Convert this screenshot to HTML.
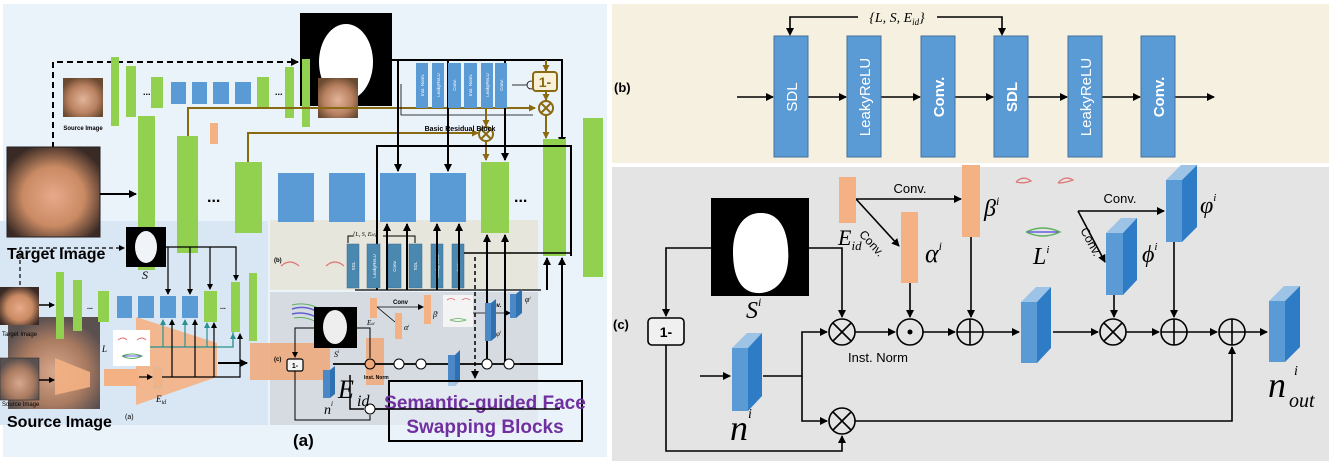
<!DOCTYPE html>
<html><head><meta charset="utf-8"><style>
html,body{margin:0;padding:0;background:#fff;}
svg{display:block;}
.sans{font-family:"Liberation Sans",sans-serif;}
.serif{font-family:"Liberation Serif",serif;font-style:italic;}
</style></head><body>
<svg width="1329" height="461" viewBox="0 0 1329 461" xmlns="http://www.w3.org/2000/svg">
<defs>
<marker id="a" markerWidth="8" markerHeight="8" refX="7" refY="4" orient="auto" markerUnits="userSpaceOnUse"><path d="M0,0 L8,4 L0,8 z" fill="#000"/></marker>
<marker id="as" markerWidth="6" markerHeight="6" refX="5" refY="3" orient="auto" markerUnits="userSpaceOnUse"><path d="M0,0 L6,3 L0,6 z" fill="#000"/></marker>
<marker id="ag" markerWidth="7" markerHeight="7" refX="6" refY="3.5" orient="auto" markerUnits="userSpaceOnUse"><path d="M0,0 L7,3.5 L0,7 z" fill="#8a6a10"/></marker>
<marker id="at" markerWidth="6" markerHeight="6" refX="5" refY="3" orient="auto" markerUnits="userSpaceOnUse"><path d="M0,0 L6,3 L0,6 z" fill="#2a9090"/></marker>
<radialGradient id="face1" cx="50%" cy="55%" r="60%"><stop offset="0" stop-color="#e7a98a"/><stop offset="0.55" stop-color="#c98a63"/><stop offset="1" stop-color="#3a2a25"/></radialGradient>
<radialGradient id="face2" cx="50%" cy="55%" r="60%"><stop offset="0" stop-color="#e2b49a"/><stop offset="0.6" stop-color="#b88060"/><stop offset="1" stop-color="#6a4a30"/></radialGradient>
<radialGradient id="face3" cx="50%" cy="60%" r="60%"><stop offset="0" stop-color="#d8a88c"/><stop offset="0.6" stop-color="#a87a60"/><stop offset="1" stop-color="#5a5050"/></radialGradient>
</defs>

<!-- ============ PANEL A ============ -->
<rect x="3" y="4" width="604" height="453" fill="#eaf2fa"/>
<rect x="0" y="221" width="268" height="204" fill="#d9e6f3"/>
<rect x="270" y="220" width="268" height="70" fill="#e6e6dc"/>
<rect x="270" y="292" width="268" height="133" fill="#d6dbe1"/>

<path d="M53,148 V62 H298" fill="none" stroke="#000" stroke-width="2" stroke-dasharray="6,4" marker-end="url(#a)"/>
<path d="M20,285 V248 H124" fill="none" stroke="#000" stroke-width="1.2" stroke-dasharray="4,3" marker-end="url(#as)"/>

<rect x="63" y="78" width="40" height="39" fill="url(#face2)"/>
<text x="83" y="130" class="sans" font-size="6" font-weight="bold" text-anchor="middle">Source Image</text>

<rect x="111" y="57" width="8" height="69" fill="#92d050"/>
<rect x="126" y="66" width="10" height="51" fill="#92d050"/>
<text x="143" y="95" class="sans" font-size="9" font-weight="bold">...</text>
<rect x="151" y="77" width="12" height="31" fill="#92d050"/>
<rect x="171" y="82" width="15" height="22" fill="#5b9bd5"/>
<rect x="192" y="82" width="15" height="22" fill="#5b9bd5"/>
<rect x="213" y="82" width="16" height="22" fill="#5b9bd5"/>
<rect x="235" y="82" width="16" height="22" fill="#5b9bd5"/>
<rect x="257" y="77" width="12" height="31" fill="#92d050"/>
<text x="275" y="95" class="sans" font-size="9" font-weight="bold">...</text>
<rect x="285" y="67" width="9" height="51" fill="#92d050"/>

<rect x="300" y="13" width="92" height="93" fill="#000"/>
<ellipse cx="346" cy="62" rx="27" ry="38" fill="#fff"/>
<rect x="302" y="59" width="8" height="68" fill="#92d050"/>
<rect x="318" y="78" width="40" height="40" fill="url(#face2)"/>

<path d="M188,136 V108 H535" fill="none" stroke="#8a6a10" stroke-width="2" marker-end="url(#ag)"/>
<path d="M248,162 V133 H478" fill="none" stroke="#8a6a10" stroke-width="2" marker-end="url(#ag)"/>
<rect x="210" y="123" width="8" height="21" fill="#f4b183"/>

<path d="M392,60 H562 V144" fill="none" stroke="#000" stroke-width="2" marker-end="url(#a)"/>
<path d="M398,60 V171" fill="none" stroke="#000" stroke-width="2" marker-end="url(#a)"/>
<path d="M448,60 V171" fill="none" stroke="#000" stroke-width="2" marker-end="url(#a)"/>
<path d="M505,60 V160" fill="none" stroke="#000" stroke-width="2" marker-end="url(#a)"/>
<path d="M401,84 V115 H533" fill="none" stroke="#000" stroke-width="0.8"/>
<g fill="#5b9bd5">
<rect x="416" y="63" width="12" height="45"/><rect x="432" y="63" width="12" height="45"/><rect x="448" y="63" width="13" height="45"/>
<rect x="464" y="63" width="13" height="45"/><rect x="481" y="63" width="12" height="45"/><rect x="495" y="63" width="12" height="45"/>
</g>
<g class="sans" font-size="4.5" fill="#fff">
<text transform="translate(424,85) rotate(-90)" text-anchor="middle">Inst. Norm.</text>
<text transform="translate(440,85) rotate(-90)" text-anchor="middle">LeakyReLU</text>
<text transform="translate(456,85) rotate(-90)" text-anchor="middle">Conv.</text>
<text transform="translate(472,85) rotate(-90)" text-anchor="middle">Inst. Norm.</text>
<text transform="translate(489,85) rotate(-90)" text-anchor="middle">LeakyReLU</text>
<text transform="translate(503,85) rotate(-90)" text-anchor="middle">Conv.</text>
</g>
<line x1="512" y1="85" x2="527" y2="85" stroke="#000" stroke-width="0.8"/>
<circle cx="531" cy="85" r="4" fill="none" stroke="#000" stroke-width="0.8"/>
<rect x="533" y="72" width="24" height="19" rx="3" fill="#f8f0d8" stroke="#8a6a10" stroke-width="2"/>
<text x="545" y="87" class="sans" font-size="14" font-weight="bold" fill="#8a6a10" text-anchor="middle">1-</text>
<line x1="546" y1="60" x2="546" y2="71" stroke="#8a6a10" stroke-width="2" marker-end="url(#ag)"/>
<line x1="546" y1="91" x2="546" y2="100" stroke="#8a6a10" stroke-width="2" marker-end="url(#ag)"/>
<circle cx="546" cy="108" r="7" fill="none" stroke="#8a6a10" stroke-width="2"/>
<path d="M541,103 L551,113 M551,103 L541,113" stroke="#8a6a10" stroke-width="2"/>
<line x1="546" y1="115" x2="546" y2="138" stroke="#8a6a10" stroke-width="2" marker-end="url(#ag)"/>
<line x1="486" y1="108" x2="486" y2="126" stroke="#8a6a10" stroke-width="2" marker-end="url(#ag)"/>
<circle cx="486" cy="134" r="7" fill="none" stroke="#8a6a10" stroke-width="2"/>
<path d="M481,129 L491,139 M491,129 L481,139" stroke="#8a6a10" stroke-width="2"/>
<line x1="486" y1="141" x2="486" y2="160" stroke="#8a6a10" stroke-width="2" marker-end="url(#ag)"/>
<text x="460" y="131" class="sans" font-size="7" font-weight="bold" text-anchor="middle">Basic Residual Block</text>

<rect x="7" y="147" width="93" height="90" fill="url(#face1)" stroke="#222" stroke-width="1"/>
<line x1="100" y1="194" x2="136" y2="194" stroke="#000" stroke-width="2" marker-end="url(#a)"/>

<rect x="138" y="116" width="17" height="154" fill="#92d050"/>
<rect x="177" y="136" width="21" height="117" fill="#92d050"/>
<text x="207" y="202" class="sans" font-size="16" font-weight="bold">...</text>
<rect x="235" y="162" width="27" height="71" fill="#92d050"/>
<rect x="278" y="173" width="36" height="49" fill="#5b9bd5"/>
<rect x="329" y="173" width="36" height="49" fill="#5b9bd5"/>
<rect x="380" y="173" width="36" height="49" fill="#5b9bd5"/>
<rect x="430" y="173" width="36" height="49" fill="#5b9bd5"/>
<rect x="481" y="162" width="28" height="71" fill="#92d050"/>
<text x="514" y="202" class="sans" font-size="16" font-weight="bold">...</text>
<rect x="543" y="139" width="23" height="117" fill="#92d050"/>
<rect x="583" y="118" width="20" height="159" fill="#92d050"/>
<path d="M377,290 V146 H571 V256" fill="none" stroke="#000" stroke-width="2"/>

<text x="7" y="259" class="sans" font-size="16" font-weight="bold">Target Image</text>

<rect x="126" y="227" width="40" height="40" fill="#000"/>
<ellipse cx="146" cy="247" rx="11" ry="16" fill="#f0f4f8"/>
<text x="142" y="279" class="serif" font-size="12">S</text>
<g stroke="#000" stroke-width="1.2" fill="none">
<path d="M166,247 H236 V280" marker-end="url(#as)"/>
<line x1="168" y1="247" x2="168" y2="294" marker-end="url(#as)"/>
<line x1="190" y1="247" x2="190" y2="294" marker-end="url(#as)"/>
<line x1="210" y1="247" x2="210" y2="289" marker-end="url(#as)"/>
</g>

<rect x="8" y="317" width="92" height="92" fill="url(#face3)"/>
<rect x="0" y="287" width="39" height="38" fill="url(#face1)"/>
<text x="2" y="336" class="sans" font-size="6">Target Image</text>
<rect x="0" y="358" width="39" height="42" fill="url(#face3)" stroke="#333" stroke-width="0.6"/>
<text x="2" y="406" class="sans" font-size="6">Source Image</text>
<line x1="39" y1="305" x2="54" y2="305" stroke="#000" stroke-width="1.5" marker-end="url(#as)"/>
<polygon points="55,358 90,372 90,387 55,395" fill="#f4b183" opacity="0.9"/>
<line x1="39" y1="380" x2="54" y2="380" stroke="#000" stroke-width="1.5" marker-end="url(#as)"/>

<polygon points="136,317 217,343 217,377 136,405" fill="#f4b183" opacity="0.9"/>
<rect x="104" y="369" width="35" height="17" fill="#f4b183"/>
<rect x="154" y="368" width="8" height="20" fill="#f4b183" stroke="#bba" stroke-width="0.6"/>
<rect x="56" y="272" width="8" height="67" fill="#92d050"/>
<rect x="73" y="280" width="9" height="51" fill="#92d050"/>
<text x="87" y="309" class="sans" font-size="7" font-weight="bold">...</text>
<rect x="98" y="291" width="11" height="31" fill="#92d050"/>
<rect x="117" y="296" width="15" height="22" fill="#5b9bd5"/>
<rect x="138" y="296" width="16" height="22" fill="#5b9bd5"/>
<rect x="160" y="296" width="16" height="22" fill="#5b9bd5"/>
<rect x="182" y="296" width="16" height="22" fill="#5b9bd5"/>
<rect x="204" y="291" width="13" height="31" fill="#92d050"/>
<text x="220" y="309" class="sans" font-size="7" font-weight="bold">...</text>
<rect x="231" y="282" width="9" height="50" fill="#92d050"/>
<rect x="249" y="273" width="8" height="68" fill="#92d050"/>
<rect x="113" y="330" width="37" height="36" fill="#fff"/>
<path d="M118,340 q5,-4 9,0 M137,340 q5,-4 9,0" stroke="#e07070" stroke-width="1" fill="none"/>
<path d="M122,356 q10,5 20,0 q-10,-4 -20,0" stroke="#60b060" stroke-width="1" fill="none"/>
<line x1="123" y1="356" x2="141" y2="356" stroke="#6060e0" stroke-width="1"/>
<text x="102" y="352" class="serif" font-size="9">L</text>
<text x="156" y="402" class="serif" font-size="9">E<tspan font-size="6" dy="2">id</tspan></text>
<text x="125" y="419" class="sans" font-size="7">(a)</text>
<g stroke="#2a9090" stroke-width="1.2" fill="none">
<path d="M150,347 H233 V332"/>
<line x1="163" y1="347" x2="163" y2="320" marker-end="url(#at)"/>
<line x1="185" y1="347" x2="185" y2="320" marker-end="url(#at)"/>
<line x1="207" y1="347" x2="207" y2="323" marker-end="url(#at)"/>
<line x1="233" y1="347" x2="233" y2="334" marker-end="url(#at)"/>
</g>
<g stroke="#000" stroke-width="1.2" fill="none">
<path d="M162,377 H240 V334" marker-end="url(#as)"/>
<line x1="172" y1="377" x2="172" y2="320" marker-end="url(#as)"/>
<line x1="195" y1="377" x2="195" y2="320" marker-end="url(#as)"/>
<line x1="214" y1="377" x2="214" y2="323" marker-end="url(#as)"/>
<line x1="139" y1="377" x2="152" y2="377" marker-end="url(#as)"/>
</g>
<line x1="218" y1="363" x2="247" y2="363" stroke="#000" stroke-width="2" marker-end="url(#a)"/>
<text x="7" y="427" class="sans" font-size="16" font-weight="bold">Source Image</text>

<text x="274" y="262" class="sans" font-size="6" font-weight="bold">(b)</text>
<path d="M281,266 q9,-8 18,0 M326,266 q9,-8 18,0" stroke="#e07070" stroke-width="1.2" fill="none"/>
<text x="353" y="236" class="serif" font-size="6">{L, S, E<tspan font-size="4">id</tspan>}</text>
<path d="M353,236 H348 V243" stroke="#000" stroke-width="1" fill="none"/>
<path d="M383,236 H415 V243" stroke="#000" stroke-width="1" fill="none"/>
<g fill="#4a88b0" stroke="#3a6a90" stroke-width="0.5">
<rect x="347" y="244" width="12" height="44"/><rect x="367" y="244" width="13" height="44"/><rect x="388" y="244" width="13" height="44"/>
<rect x="409" y="244" width="13" height="44"/><rect x="431" y="244" width="12" height="44"/><rect x="452" y="244" width="12" height="44"/>
</g>
<g class="sans" font-size="4.5" fill="#fff">
<text transform="translate(355,266) rotate(-90)" text-anchor="middle">SDL</text>
<text transform="translate(376,266) rotate(-90)" text-anchor="middle">LeakyReLU</text>
<text transform="translate(396,266) rotate(-90)" text-anchor="middle">Conv.</text>
<text transform="translate(417,266) rotate(-90)" text-anchor="middle">SDL</text>
<text transform="translate(439,266) rotate(-90)" text-anchor="middle">LeakyReLU</text>
<text transform="translate(460,266) rotate(-90)" text-anchor="middle">Conv.</text>
</g>
<line x1="464" y1="253" x2="571" y2="253" stroke="#000" stroke-width="1.5"/>
<line x1="355" y1="290" x2="541" y2="290" stroke="#000" stroke-width="1.2"/>
<g stroke="#000" stroke-width="2" fill="none">
<line x1="387" y1="290" x2="387" y2="224" marker-end="url(#a)"/>
<line x1="407" y1="290" x2="407" y2="224" marker-end="url(#a)"/>
<line x1="437" y1="290" x2="437" y2="224" marker-end="url(#a)"/>
<line x1="459" y1="290" x2="459" y2="224" marker-end="url(#a)"/>
<line x1="487" y1="365" x2="487" y2="235" marker-end="url(#a)"/>
<line x1="505" y1="365" x2="505" y2="235" marker-end="url(#a)"/>
<line x1="547" y1="290" x2="547" y2="258" marker-end="url(#a)"/>
<line x1="562" y1="290" x2="562" y2="258" marker-end="url(#a)"/>
<path d="M520,364 H562 V290"/>
</g>
<line x1="475" y1="257" x2="475" y2="378" stroke="#000" stroke-width="1.5" stroke-dasharray="4,3" marker-end="url(#a)"/>

<rect x="250" y="343" width="80" height="37" fill="#f0a878" opacity="0.85"/>
<rect x="366" y="338" width="18" height="47" fill="#f0a878" opacity="0.85"/>
<text x="274" y="361" class="sans" font-size="6" font-weight="bold">(c)</text>
<path d="M292,309 q12,-4 24,2 M292,314 q12,-3 24,3" stroke="#6060d0" stroke-width="1.5" fill="none"/>
<path d="M292,305 q12,-3 24,2 M294,318 q12,-2 22,4" stroke="#60b060" stroke-width="1" fill="none"/>
<rect x="314" y="307" width="43" height="41" fill="#000"/>
<ellipse cx="335" cy="327" rx="12" ry="17" fill="#eee"/>
<text x="334" y="357" class="serif" font-size="8">S<tspan font-size="5" dy="-4">i</tspan></text>
<path d="M314,328 H295 V357" stroke="#000" stroke-width="1" fill="none" marker-end="url(#as)"/>
<rect x="287" y="359" width="16" height="12" rx="2" fill="#f5f5f5" stroke="#000" stroke-width="1.2"/>
<text x="295" y="368" class="sans" font-size="7" font-weight="bold" text-anchor="middle">1-</text>
<path d="M295,371 V420 H370 V415" stroke="#000" stroke-width="1" fill="none"/>
<path d="M357,328 H370 V358" stroke="#000" stroke-width="1" fill="none"/>
<line x1="333" y1="364" x2="533" y2="364" stroke="#000" stroke-width="1.8"/>
<circle cx="370" cy="364" r="5" fill="#f0a878" stroke="#000" stroke-width="1"/>
<circle cx="399" cy="364" r="5" fill="#fff" stroke="#000" stroke-width="1"/>
<circle cx="421" cy="364" r="5" fill="#fff" stroke="#000" stroke-width="1"/>
<circle cx="487" cy="364" r="5" fill="#fff" stroke="#000" stroke-width="1"/>
<circle cx="509" cy="364" r="5" fill="#fff" stroke="#000" stroke-width="1"/>
<circle cx="370" cy="409" r="5" fill="#fff" stroke="#000" stroke-width="1"/>
<path d="M350,375 V409 H364 M375,409 H512" stroke="#000" stroke-width="1.5" fill="none"/>
<rect x="370" y="298" width="7" height="20" fill="#f4b183"/>
<rect x="395" y="313" width="7" height="26" fill="#f4b183"/>
<rect x="424" y="295" width="7" height="29" fill="#f4b183"/>
<text x="393" y="304" class="sans" font-size="6" font-weight="bold">Conv</text>
<line x1="377" y1="307" x2="423" y2="307" stroke="#000" stroke-width="0.8" marker-end="url(#as)"/>
<line x1="377" y1="307" x2="395" y2="322" stroke="#000" stroke-width="0.8"/>
<text x="367" y="325" class="serif" font-size="7">E<tspan font-size="4">id</tspan></text>
<text x="404" y="330" class="serif" font-size="8">α<tspan font-size="4" dy="-3">i</tspan></text>
<text x="433" y="317" class="serif" font-size="8">β<tspan font-size="4" dy="-3">i</tspan></text>
<rect x="443" y="295" width="30" height="32" fill="#f4f4f4"/>
<path d="M447,300 q4,-3 8,0 M462,300 q4,-3 8,0" stroke="#e07070" stroke-width="0.8" fill="none"/>
<path d="M450,320 q8,3 16,0 q-8,-3 -16,0" stroke="#60b060" stroke-width="0.8" fill="none"/>
<text x="485" y="307" class="sans" font-size="6" font-weight="bold">Conv.</text>
<line x1="473" y1="313" x2="510" y2="313" stroke="#000" stroke-width="0.8" marker-end="url(#as)"/>
<path d="M485,341 h6 v-38 h-6z" fill="#4a88c8"/><path d="M491,303 l5,-4 v38 l-5,4z" fill="#2e70b0"/>
<path d="M510,318 h6 v-24 h-6z" fill="#4a88c8"/><path d="M516,294 l6,-5 v24 l-6,5z" fill="#2e70b0"/>
<text x="496" y="336" class="serif" font-size="7">φ<tspan font-size="4" dy="-3">i</tspan></text>
<text x="525" y="302" class="serif" font-size="8">φ<tspan font-size="4" dy="-3">i</tspan></text>
<path d="M448,386 h7 v-31 h-7z" fill="#4a88c8"/><path d="M455,355 l5,-5 v31 l-5,5z" fill="#2e70b0"/>
<path d="M323,398 h7 v-28 h-7z" fill="#4a88c8"/><path d="M330,370 l5,-4 v28 l-5,4z" fill="#2e70b0"/>
<text x="324" y="414" class="serif" font-size="14">n<tspan font-size="7" dy="-8">i</tspan></text>
<text x="338" y="398" class="serif" font-size="26">E</text>
<text x="357" y="406" class="serif" font-size="16">id</text>
<text x="364" y="379" class="sans" font-size="5" font-weight="bold">Inst. Norm</text>

<rect x="389" y="381" width="193" height="60" fill="#eaf2fa" fill-opacity="0.6" stroke="#000" stroke-width="2"/>
<text x="485" y="409" class="sans" font-size="19" font-weight="bold" fill="#7030a0" text-anchor="middle">Semantic-guided Face</text>
<text x="485" y="433" class="sans" font-size="19" font-weight="bold" fill="#7030a0" text-anchor="middle">Swapping Blocks</text>
<line x1="375" y1="409" x2="560" y2="409" stroke="#000" stroke-width="1.5"/>
<text x="293" y="446" class="sans" font-size="17" font-weight="bold">(a)</text>

<!-- ============ PANEL B ============ -->
<rect x="612" y="4" width="717" height="159" fill="#f6f0e0"/>
<text x="614" y="92" class="sans" font-size="13" font-weight="bold">(b)</text>
<g stroke="#000" stroke-width="1.6">
<line x1="737" y1="97" x2="773" y2="97" marker-end="url(#a)"/>
<line x1="808" y1="97" x2="846" y2="97" marker-end="url(#a)"/>
<line x1="881" y1="97" x2="920" y2="97" marker-end="url(#a)"/>
<line x1="955" y1="97" x2="993" y2="97" marker-end="url(#a)"/>
<line x1="1028" y1="97" x2="1067" y2="97" marker-end="url(#a)"/>
<line x1="1102" y1="97" x2="1140" y2="97" marker-end="url(#a)"/>
<line x1="1175" y1="97" x2="1214" y2="97" marker-end="url(#a)"/>
</g>
<path d="M790,34 V17 H858 M937,17 H1002 V34" fill="none" stroke="#000" stroke-width="1.6"/>
<polygon points="786,28 794,28 790,36" fill="#000"/><polygon points="998,28 1006,28 1002,36" fill="#000"/>
<text x="897" y="22" class="serif" font-size="14" text-anchor="middle">{L, S, E<tspan font-size="9" dy="3">id</tspan><tspan dy="-3">}</tspan></text>
<g fill="#5b9bd5" stroke="#41719c" stroke-width="1">
<rect x="774" y="36" width="34" height="121"/><rect x="847" y="36" width="34" height="121"/><rect x="921" y="36" width="34" height="121"/>
<rect x="994" y="36" width="34" height="121"/><rect x="1068" y="36" width="34" height="121"/><rect x="1141" y="36" width="34" height="121"/>
</g>
<g class="sans" font-size="15" fill="#fff" text-anchor="middle">
<text transform="translate(797,97) rotate(-90)">SDL</text>
<text transform="translate(870,97) rotate(-90)">LeakyReLU</text>
<text transform="translate(944,97) rotate(-90)" font-weight="bold">Conv.</text>
<text transform="translate(1017,97) rotate(-90)" font-weight="bold">SDL</text>
<text transform="translate(1091,97) rotate(-90)">LeakyReLU</text>
<text transform="translate(1164,97) rotate(-90)" font-weight="bold">Conv.</text>
</g>

<!-- ============ PANEL C ============ -->
<rect x="612" y="167" width="717" height="294" fill="#e4e4e4"/>
<text x="613" y="329" class="sans" font-size="13" font-weight="bold">(c)</text>
<rect x="711" y="198" width="98" height="98" fill="#000"/>
<path d="M760,213 C784,212 790,240 788,262 C786,285 770,294 757,293 C740,292 733,275 733,252 C733,228 744,213 760,213 z" fill="#fff"/>
<text x="746" y="318" class="serif" font-size="24">S<tspan font-size="12" dy="-12">i</tspan></text>

<g stroke="#000" stroke-width="1.6" fill="none">
<path d="M711,248 H666 V316" marker-end="url(#a)"/>
<path d="M809,248 H842 V317" marker-end="url(#a)"/>
<path d="M666,345 V451 H842 V436" marker-end="url(#a)"/>
<path d="M700,376 H730" marker-end="url(#a)"/>
<path d="M763,376 H802 V332 H827" marker-end="url(#a)"/>
<path d="M802,376 V421 H827" marker-end="url(#a)"/>
<path d="M855,332 H895" marker-end="url(#a)"/>
<path d="M923,332 H955" marker-end="url(#a)"/>
<path d="M983,332 H1019" marker-end="url(#a)"/>
<path d="M1053,332 H1098" marker-end="url(#a)"/>
<path d="M1126,332 H1159" marker-end="url(#a)"/>
<path d="M1187,332 H1217" marker-end="url(#a)"/>
<path d="M1245,332 H1267" marker-end="url(#a)"/>
<path d="M855,421 H1232 V347" marker-end="url(#a)"/>
<path d="M910,283 V317" marker-end="url(#a)"/>
<path d="M971,237 V317" marker-end="url(#a)"/>
<path d="M1114,295 V317" marker-end="url(#a)"/>
<path d="M1174,242 V317" marker-end="url(#a)"/>
<path d="M856,199 H961" marker-end="url(#a)"/>
<path d="M856,199 L899,246" marker-end="url(#a)"/>
<path d="M1078,211 H1164" marker-end="url(#a)"/>
<path d="M1078,211 L1105,262" marker-end="url(#a)"/>
</g>
<rect x="648" y="318" width="36" height="27" rx="4" fill="#f0f0f0" stroke="#000" stroke-width="1.6"/>
<text x="666" y="337" class="sans" font-size="14" font-weight="bold" text-anchor="middle">1-</text>

<g fill="none" stroke="#000" stroke-width="1.6">
<circle cx="842" cy="332" r="13"/><path d="M833,323 L851,341 M851,323 L833,341"/>
<circle cx="842" cy="421" r="13"/><path d="M833,412 L851,430 M851,412 L833,430"/>
<circle cx="910" cy="332" r="13"/>
<circle cx="970" cy="332" r="13"/><path d="M957,332 H983 M970,319 V345"/>
<circle cx="1113" cy="332" r="13"/><path d="M1104,323 L1122,341 M1122,323 L1104,341"/>
<circle cx="1174" cy="332" r="13"/><path d="M1161,332 H1187 M1174,319 V345"/>
<circle cx="1232" cy="332" r="13"/><path d="M1219,332 H1245 M1232,319 V345"/>
</g>
<circle cx="910" cy="332" r="2.5" fill="#000"/>
<text x="878" y="362" class="sans" font-size="13" text-anchor="middle">Inst. Norm</text>

<rect x="839" y="177" width="17" height="46" fill="#f4b183"/>
<rect x="901" y="212" width="17" height="71" fill="#f4b183"/>
<rect x="962" y="165" width="18" height="72" fill="#f4b183"/>
<text x="838" y="245" class="serif" font-size="22">E<tspan font-size="13" dy="5">id</tspan></text>
<text x="866" y="238" class="sans" font-size="12" transform="rotate(48 866 228)">Conv.</text>
<text x="910" y="193" class="sans" font-size="13" text-anchor="middle">Conv.</text>
<text x="925" y="262" class="serif" font-size="26">α<tspan font-size="12" dy="-12">i</tspan></text>
<text x="984" y="216" class="serif" font-size="24">β<tspan font-size="12" dy="-11">i</tspan></text>

<path d="M1016,182 q7,-7 15,-1 q-7,3 -15,1 M1058,183 q7,-8 15,-3 q-8,3 -15,3" stroke="#e07878" stroke-width="1.3" fill="none"/>
<path d="M1026,232 q17,-8 34,0 q-17,8 -34,0" stroke="#60b060" stroke-width="1.5" fill="none"/>
<line x1="1028" y1="232" x2="1058" y2="232" stroke="#6060e0" stroke-width="1.5"/>
<text x="1033" y="264" class="serif" font-size="24">L<tspan font-size="11" dy="-11">i</tspan></text>
<text x="1120" y="203" class="sans" font-size="13" text-anchor="middle">Conv.</text>
<text x="1073" y="238" class="sans" font-size="12" transform="rotate(62 1083 240)">Conv.</text>

<g>
<polygon points="732,348 747,333 762,333 748,348" fill="#9dc3e6"/><polygon points="748,348 762,333 762,396 748,411" fill="#2e7cc6"/><rect x="732" y="348" width="16" height="63" fill="#5b9bd5"/>
<polygon points="1021,302 1036,287 1051,287 1037,302" fill="#9dc3e6"/><polygon points="1037,302 1051,287 1051,348 1037,363" fill="#2e7cc6"/><rect x="1021" y="302" width="16" height="61" fill="#5b9bd5"/>
<polygon points="1106,233 1121,218 1137,218 1123,233" fill="#9dc3e6"/><polygon points="1123,233 1137,218 1137,280 1123,295" fill="#2e7cc6"/><rect x="1106" y="233" width="17" height="62" fill="#5b9bd5"/>
<polygon points="1166,180 1181,165 1197,165 1182,180" fill="#9dc3e6"/><polygon points="1182,180 1197,165 1197,227 1182,242" fill="#2e7cc6"/><rect x="1166" y="180" width="16" height="62" fill="#5b9bd5"/>
<polygon points="1269,301 1284,286 1300,286 1285,301" fill="#9dc3e6"/><polygon points="1285,301 1300,286 1300,347 1285,362" fill="#2e7cc6"/><rect x="1269" y="301" width="16" height="61" fill="#5b9bd5"/>
</g>
<text x="1142" y="262" class="serif" font-size="24">ϕ<tspan font-size="11" dy="-12">i</tspan></text>
<text x="1200" y="213" class="serif" font-size="24">φ<tspan font-size="11" dy="-12">i</tspan></text>
<text x="730" y="440" class="serif" font-size="36">n<tspan font-size="14" dy="-22">i</tspan></text>
<text x="1268" y="397" class="serif" font-size="36">n</text>
<text x="1294" y="375" class="serif" font-size="14">i</text>
<text x="1289" y="407" class="serif" font-size="20">out</text>
</svg>
</body></html>
